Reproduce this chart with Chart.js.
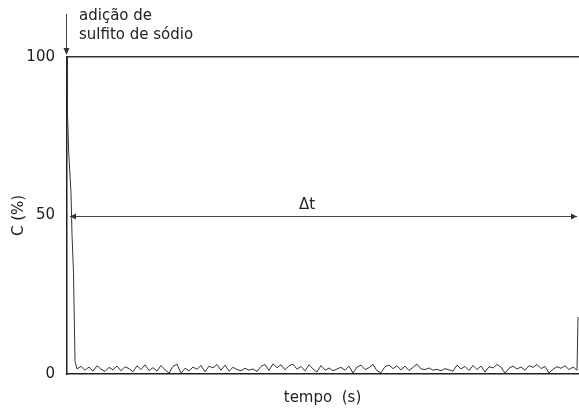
<!DOCTYPE html>
<html lang="pt">
<head>
<meta charset="UTF-8">
<title>C (%) x tempo</title>
<style>
    * { margin: 0; padding: 0; box-sizing: border-box; }
    body { background: #fff; width: 579px; height: 412px; overflow: hidden; }
    #wrap { position: relative; width: 579px; height: 412px; }
</style>
</head>
<body>
<div id="wrap"><canvas id="chart"></canvas></div>

<script src="https://cdn.jsdelivr.net/npm/chart.js"></script>
<script>
// time axis runs 0..511 (no tick labels in the original)
const timeMax = 511;
const yTicks = [0, 50, 100];

// fast drop after the sulfite addition
const dropTimes = [0, 0.5, 1.7, 4, 5, 6.5, 8, 9];
const dropValues = [100, 82, 70, 57, 44, 32, 4, 2.8];

// noisy baseline, one reading every 4 s from t = 10 to t = 506
const noiseStart = 10;
const noiseStep = 4;
const noiseValues = [
    1.6, 2.4, 1.2, 2.2, 0.9, 2.6, 1.5, 0.8, 2.1, 1.3,
    2.5, 1.0, 2.3, 1.7, 0.7, 2.6, 1.4, 2.9, 1.1, 2.0,
    0.9, 2.7, 1.3, 0.3, 2.4, 3.1, 0.2, 1.8, 1.0, 2.2,
    1.5, 2.7, 0.7, 2.5, 1.9, 3.0, 1.2, 2.8, 0.9, 2.1,
    1.4, 1.0, 1.8, 1.2, 1.6, 0.8, 2.4, 3.0, 1.1, 3.2,
    2.0, 2.9, 1.3, 2.6, 3.1, 1.5, 2.4, 1.0, 2.9, 1.6,
    0.6, 2.7, 1.2, 1.9, 1.0, 1.6, 2.1, 1.2, 2.5, 0.3,
    2.2, 2.8, 1.4, 2.0, 3.0, 1.0, 0.4, 2.3, 2.8, 1.7,
    2.6, 1.3, 2.5, 1.1, 2.1, 3.1, 1.6, 1.4, 1.9, 1.2,
    1.5, 1.0, 1.7, 1.3, 0.9, 2.8, 1.6, 2.4, 1.1, 2.7,
    1.4, 2.5, 0.6, 2.3, 1.9, 3.0, 2.2, 0.2, 1.8, 2.5,
    1.6, 2.2, 1.2, 2.6, 2.1, 3.0, 1.7, 2.4, 0.3, 1.5,
    2.3, 1.8, 2.6, 1.4, 2.2
];

// final rise at the right edge
const riseTimes = [510, 511];
const riseValues = [1.2, 18];

const points = [];
dropTimes.forEach((t, i) => points.push({ x: t, y: dropValues[i] }));
noiseValues.forEach((v, i) => points.push({ x: noiseStart + i * noiseStep, y: v }));
riseTimes.forEach((t, i) => points.push({ x: t, y: riseValues[i] }));

const fontFam = '"DejaVu Sans", Arial, sans-serif';
const textColor = '#222';

function arrowHead(ctx, x, y, dir) {
    // dir: 'left', 'right', 'down'
    ctx.beginPath();
    if (dir === 'left') { ctx.moveTo(x, y); ctx.lineTo(x + 6, y - 3); ctx.lineTo(x + 6, y + 3); }
    if (dir === 'right') { ctx.moveTo(x, y); ctx.lineTo(x - 6, y - 3); ctx.lineTo(x - 6, y + 3); }
    if (dir === 'down') { ctx.moveTo(x, y); ctx.lineTo(x - 3, y - 7); ctx.lineTo(x + 3, y - 7); }
    ctx.closePath();
    ctx.fill();
}

const notes = {
    id: 'notes',
    afterDatasetsDraw(chart) {
        const ctx = chart.ctx;
        const xs = chart.scales.x, ys = chart.scales.y;
        ctx.save();
        ctx.strokeStyle = '#444';
        ctx.fillStyle = '#333';
        ctx.lineWidth = 1;

        // delta t double arrow at 50 %
        const yy = Math.round(ys.getPixelForValue(50)) + 0.5;
        const x0 = xs.getPixelForValue(0) + 3, x1 = xs.getPixelForValue(timeMax) - 1;
        ctx.beginPath();
        ctx.moveTo(x0, yy); ctx.lineTo(x1, yy);
        ctx.stroke();
        arrowHead(ctx, x0, yy, 'left');
        arrowHead(ctx, x1, yy, 'right');
        ctx.font = '15px ' + fontFam;
        ctx.fillStyle = textColor;
        ctx.textAlign = 'center';
        ctx.textBaseline = 'bottom';
        ctx.fillText('\u0394t', xs.getPixelForValue(240), yy - 4);

        // sulfite addition marker
        const ax = Math.round(xs.getPixelForValue(0)) - 0.5;
        ctx.fillStyle = '#333';
        ctx.beginPath();
        ctx.moveTo(ax, 14); ctx.lineTo(ax, 50);
        ctx.stroke();
        arrowHead(ctx, ax, 55, 'down');
        ctx.fillStyle = textColor;
        ctx.textAlign = 'left';
        ctx.textBaseline = 'middle';
        ctx.font = '15px ' + fontFam;
        ctx.fillText('adição de', 79, 16);
        ctx.fillText('sulfito de sódio', 79, 35);
        ctx.restore();
    }
};

new Chart(document.getElementById('chart'), {
    type: 'line',
    data: {
        datasets: [{
            data: points,
            borderColor: '#333',
            borderWidth: 1,
            pointRadius: 0,
            tension: 0,
            clip: false
        }]
    },
    options: {
        responsive: true,
        maintainAspectRatio: false,
        animation: false,
        layout: { padding: { top: 57, right: 1, left: 0, bottom: 0 } },
        plugins: { legend: { display: false }, tooltip: { enabled: false } },
        scales: {
            x: {
                type: 'linear',
                min: 0,
                max: timeMax,
                grid: { display: false },
                border: { display: true, color: '#222', width: 1.5 },
                ticks: { display: false },
                title: {
                    display: true,
                    text: 'tempo  (s)',
                    color: textColor,
                    font: { family: fontFam, size: 15 },
                    padding: { top: 0, bottom: 5 }
                },
                afterFit(scale) { scale.height = 38; }
            },
            x2: {
                type: 'linear',
                position: 'top',
                min: 0,
                max: timeMax,
                grid: { display: false },
                border: { display: true, color: '#333', width: 1.5 },
                ticks: { display: false },
                afterFit(scale) { scale.height = 0; }
            },
            y: {
                min: 0,
                max: 100,
                afterBuildTicks(scale) { scale.ticks = yTicks.map(v => ({ value: v })); },
                grid: { display: false },
                border: { display: true, color: '#222', width: 1.5 },
                ticks: {
                    color: textColor,
                    font: { family: fontFam, size: 15 },
                    padding: 4
                },
                title: {
                    display: true,
                    text: 'C (%)',
                    color: textColor,
                    font: { family: fontFam, size: 15 },
                    padding: { top: 10, bottom: 0 }
                },
                afterFit(scale) { scale.width = 67; }
            }
        }
    },
    plugins: [notes]
});
</script>
</body>
</html>
